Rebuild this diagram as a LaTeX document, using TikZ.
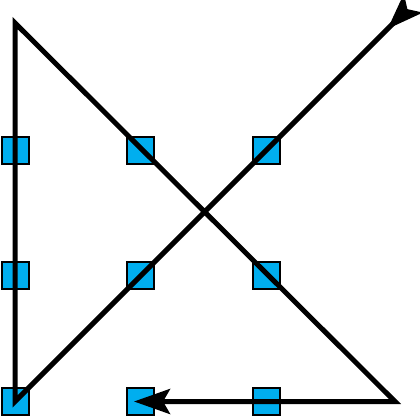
\documentclass[tikz,border=0pt]{standalone}
\usetikzlibrary{arrows.meta}
\definecolor{sqblue}{RGB}{0,174,239}
\begin{document}
\begin{tikzpicture}[x=1pt,y=-1pt,
  sq/.style={draw=black,line width=2pt,fill=sqblue,minimum width=27pt,minimum height=27pt,inner sep=0pt,outer sep=0pt},
  pathline/.style={line width=5pt,line join=miter}]
\useasboundingbox (0,0) rectangle (420,417);
\node[sq] (s11) at (15,150) {};
\node[sq] (s12) at (140.5,150) {};
\node[sq] (s13) at (266.5,150) {};
\node[sq] (s21) at (15,275.5) {};
\node[sq] (s22) at (140.5,275.5) {};
\node[sq] (s23) at (266.5,275.5) {};
\node[sq] (s31) at (15,401.5) {};
\node[sq] (s32) at (140.5,401.5) {};
\node[sq] (s33) at (266.5,401.5) {};
\coordinate (start) at (413,3.5);
\coordinate (topleft) at (15,23);
\coordinate (botright) at (395,401.5);
\coordinate (end) at (134,401.5);
\draw[pathline,{Stealth[reversed,length=36pt,width=26pt,inset=8pt]}-{Stealth[length=36pt,width=25pt,inset=7pt]}]
  (start) -- (s31.center) -- (topleft) -- (botright) -- (end);
\end{tikzpicture}
\end{document}
